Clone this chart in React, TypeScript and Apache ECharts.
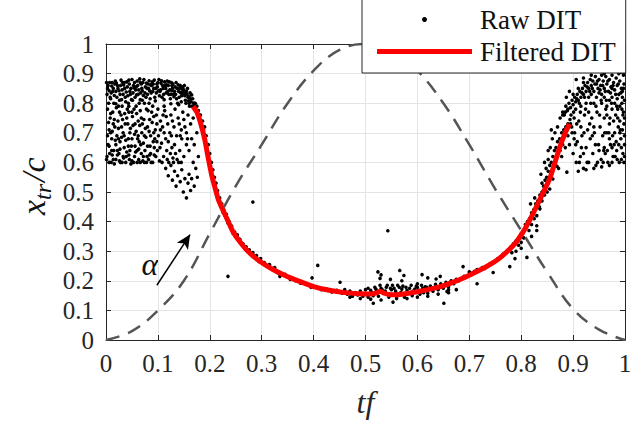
import React, { useEffect, useRef } from "react";
import * as echarts from "echarts";

const FONT = "'Liberation Serif', 'Times New Roman', serif";

// Raw DIT: left cloud, upper dense band
const rawLeftTop: number[][] = [
  [0.003,0.85],[0.008,0.82],[0.012,0.87],[0.015,0.80],[0.019,0.84],[0.022,0.86],[0.026,0.81],[0.029,0.878],[0.033,0.83],[0.036,0.85],
  [0.04,0.872],[0.043,0.80],[0.046,0.84],[0.05,0.88],[0.053,0.86],[0.056,0.82],[0.06,0.875],[0.063,0.845],[0.066,0.87],[0.07,0.81],
  [0.073,0.88],[0.076,0.855],[0.08,0.83],[0.083,0.876],[0.086,0.862],[0.09,0.84],[0.093,0.878],[0.096,0.85],[0.1,0.87],[0.103,0.825],
  [0.106,0.868],[0.11,0.85],[0.113,0.872],[0.116,0.835],[0.12,0.86],[0.123,0.845],[0.126,0.87],[0.13,0.83],[0.133,0.855],[0.136,0.815],
  [0.14,0.84],[0.143,0.86],[0.146,0.825],[0.15,0.845],[0.153,0.81],[0.156,0.83],[0.16,0.8],[0.163,0.815],[0.166,0.79],[0.169,0.80],
  [0.005,0.80],[0.01,0.835],[0.017,0.865],[0.024,0.79],[0.031,0.845],[0.038,0.805],[0.045,0.865],[0.052,0.835],[0.058,0.855],[0.064,0.80],
  [0.069,0.85],[0.075,0.835],[0.081,0.865],[0.088,0.86],[0.094,0.82],[0.099,0.855],[0.105,0.845],[0.111,0.83],[0.118,0.875],[0.124,0.815],
  [0.128,0.85],[0.135,0.87],[0.141,0.82],[0.148,0.855],[0.155,0.84],[0.158,0.82],[0.162,0.835],[0.145,0.805],[0.138,0.80],[0.132,0.84],
  [0.002,0.83],[0.007,0.87],[0.014,0.85],[0.021,0.82],[0.028,0.86],[0.035,0.87],[0.042,0.825],[0.048,0.85],[0.055,0.87],[0.062,0.83],
  [0.068,0.865],[0.074,0.80],[0.079,0.85],[0.085,0.815],[0.091,0.865],[0.097,0.835],[0.102,0.88],[0.108,0.82],[0.114,0.86],[0.121,0.83],
  [0.127,0.86],[0.134,0.83],[0.142,0.85],[0.149,0.83],[0.157,0.85],[0.152,0.825],[0.164,0.805],[0.167,0.815],[0.159,0.808],[0.147,0.838],
  [0.004,0.86],[0.009,0.815],[0.013,0.84],[0.018,0.875],[0.023,0.85],[0.027,0.83],[0.032,0.87],[0.037,0.82],[0.041,0.855],[0.047,0.83],
  [0.051,0.81],[0.057,0.845],[0.061,0.86],[0.067,0.835],[0.071,0.87],[0.077,0.82],[0.082,0.85],[0.087,0.835],[0.092,0.85],[0.098,0.865],
  [0.104,0.84],[0.109,0.86],[0.115,0.85],[0.119,0.84],[0.125,0.83],[0.129,0.865],[0.137,0.85],[0.144,0.835],[0.151,0.86],[0.154,0.8],
  [0.011,0.858],[0.016,0.826],[0.02,0.868],[0.025,0.842],[0.03,0.812],[0.034,0.862],[0.039,0.838],[0.044,0.878],[0.049,0.812],[0.054,0.852],
  [0.059,0.828],[0.065,0.882],[0.07,0.842],[0.072,0.826],[0.078,0.868],[0.084,0.842],[0.089,0.872],[0.095,0.808],[0.101,0.842],[0.107,0.876],
  [0.112,0.812],[0.117,0.862],[0.122,0.872],[0.127,0.842],[0.131,0.822],[0.139,0.862],[0.146,0.848],[0.153,0.836],[0.16,0.822],[0.165,0.828],
  [0.006,0.842],[0.001,0.87],[0.019,0.798],[0.031,0.79],[0.044,0.79],[0.058,0.79],[0.066,0.812],[0.083,0.8],[0.09,0.79],[0.112,0.79],
  [0.125,0.798],[0.14,0.795],[0.17,0.79],[0.172,0.8],[0.161,0.79],
];

// Raw DIT: left cloud, lower sparse part
const rawLeftLow: number[][] = [
  [0.002,0.62],[0.004,0.66],[0.006,0.71],[0.008,0.75],[0.01,0.6],[0.011,0.68],[0.013,0.77],[0.015,0.64],[0.017,0.72],[0.019,0.61],
  [0.021,0.69],[0.023,0.74],[0.025,0.63],[0.027,0.67],[0.029,0.76],[0.031,0.6],[0.033,0.7],[0.035,0.65],[0.037,0.73],[0.039,0.62],
  [0.041,0.78],[0.043,0.68],[0.045,0.61],[0.047,0.715],[0.049,0.655],[0.051,0.755],[0.053,0.6],[0.055,0.695],[0.057,0.635],[0.059,0.765],
  [0.061,0.68],[0.063,0.61],[0.065,0.725],[0.067,0.66],[0.069,0.7],[0.071,0.605],[0.073,0.745],[0.075,0.64],[0.077,0.685],[0.079,0.62],
  [0.081,0.775],[0.083,0.705],[0.085,0.655],[0.087,0.6],[0.089,0.735],[0.091,0.67],[0.093,0.625],[0.095,0.71],[0.097,0.76],[0.099,0.64],
  [0.101,0.69],[0.103,0.605],[0.105,0.74],[0.107,0.665],[0.109,0.72],[0.111,0.62],[0.113,0.775],[0.115,0.68],[0.117,0.64],[0.119,0.73],
  [0.121,0.6],[0.123,0.7],[0.125,0.76],[0.127,0.65],[0.129,0.615],[0.131,0.72],[0.133,0.78],[0.136,0.69],[0.139,0.75],[0.142,0.64],
  [0.145,0.71],[0.148,0.77],
  [0.003,0.69],[0.005,0.735],[0.007,0.63],[0.009,0.765],[0.012,0.705],[0.014,0.61],[0.016,0.745],[0.018,0.675],[0.02,0.785],[0.022,0.625],
  [0.024,0.715],[0.026,0.77],[0.028,0.6],[0.03,0.685],[0.032,0.745],[0.034,0.615],[0.036,0.765],[0.038,0.675],[0.04,0.635],[0.042,0.73],
  [0.044,0.77],[0.046,0.64],[0.048,0.595],[0.05,0.68],[0.052,0.725],[0.054,0.78],[0.056,0.655],[0.058,0.705],[0.06,0.6],[0.062,0.74],
  [0.064,0.67],[0.066,0.775],[0.068,0.63],[0.07,0.73],[0.072,0.665],[0.074,0.6],[0.076,0.715],[0.078,0.78],[0.08,0.655],[0.082,0.61],
  [0.084,0.745],[0.086,0.69],[0.088,0.77],[0.09,0.6],[0.092,0.755],[0.094,0.68],[0.096,0.62],[0.098,0.73],[0.1,0.78],[0.104,0.65],
  [0.108,0.6],[0.112,0.7],[0.116,0.755],[0.12,0.67],[0.124,0.63],[0.128,0.74],[0.132,0.66],[0.137,0.61],[0.141,0.73],[0.146,0.68],
  [0.15,0.745],[0.155,0.7],[0.158,0.76],
  [0.001,0.61],[0.006,0.6],[0.012,0.625],[0.016,0.595],[0.022,0.64],[0.026,0.605],[0.033,0.62],[0.038,0.6],[0.044,0.625],[0.05,0.605],
  [0.055,0.62],[0.06,0.64],[0.066,0.6],[0.072,0.62],[0.078,0.6],[0.084,0.625],[0.003,0.78],[0.009,0.7],[0.014,0.73],[0.019,0.66],
  [0.024,0.68],[0.03,0.72],[0.035,0.69],[0.04,0.75],[0.046,0.7],[0.05,0.77],[0.056,0.73],[0.062,0.69],[0.068,0.75],[0.074,0.69],
  [0.08,0.72],[0.086,0.63],[0.092,0.7],[0.098,0.67],[0.105,0.71],[0.11,0.76],[0.118,0.61],[0.126,0.69],[0.134,0.63],[0.143,0.69],
  [0.152,0.72],[0.157,0.68],[0.163,0.73],[0.168,0.75],[0.006,0.655],[0.011,0.64],[0.027,0.645],[0.043,0.655],[0.063,0.645],[0.093,0.65],
];

// Raw DIT: tail below the left cloud
const rawLeftTail: number[][] = [
  [0.115,0.58],[0.12,0.555],[0.125,0.59],[0.128,0.54],[0.132,0.57],[0.135,0.52],[0.138,0.555],[0.14,0.6],[0.143,0.535],[0.146,0.575],
  [0.149,0.5],[0.152,0.545],[0.155,0.48],[0.158,0.53],[0.16,0.56],[0.163,0.505],[0.165,0.545],[0.168,0.6],[0.17,0.52],[0.173,0.58],
  [0.176,0.55],[0.178,0.62],[0.15,0.62],[0.16,0.64],[0.165,0.68],[0.17,0.66],[0.175,0.7],[0.155,0.66],[0.145,0.6],[0.13,0.6],
];

// Raw DIT: along the descending branch
const rawDescent: number[][] = [
  [0.172,0.78],[0.176,0.77],[0.18,0.755],[0.184,0.72],[0.188,0.71],[0.192,0.66],[0.196,0.63],[0.2,0.6],[0.203,0.56],[0.207,0.545],
  [0.21,0.51],[0.214,0.49],[0.218,0.465],[0.222,0.45],[0.226,0.43],[0.23,0.42],[0.235,0.395],[0.24,0.38],[0.245,0.36],[0.25,0.35],
  [0.255,0.34],[0.26,0.325],[0.265,0.318],[0.27,0.305],[0.275,0.3],[0.28,0.29],[0.285,0.285],[0.29,0.275],[0.295,0.265],[0.3,0.262],
  [0.31,0.25],[0.32,0.24],[0.33,0.228],
  [0.17,0.8],[0.175,0.79],[0.178,0.775],[0.182,0.76],[0.186,0.74],[0.19,0.72],[0.193,0.69],[0.197,0.66],[0.2,0.63],[0.203,0.6],
  [0.206,0.575],[0.209,0.55],[0.212,0.53],[0.215,0.505],[0.219,0.48],[0.223,0.46],[0.227,0.44],[0.232,0.425],[0.237,0.4],[0.242,0.385],
  [0.248,0.365],[0.253,0.355],[0.258,0.34],[0.264,0.325],[0.27,0.315],[0.276,0.305],[0.283,0.295],[0.29,0.285],[0.298,0.275],[0.305,0.262],
  [0.315,0.255],[0.325,0.245],
];

// Raw DIT: bottom of the loop
const rawBottom: number[][] = [
  [0.335,0.215],[0.345,0.222],[0.355,0.205],[0.365,0.2],[0.375,0.192],[0.385,0.19],[0.395,0.178],[0.405,0.18],[0.415,0.17],[0.425,0.172],
  [0.435,0.162],[0.445,0.168],[0.455,0.158],[0.46,0.17],[0.465,0.155],[0.47,0.165],[0.475,0.148],[0.48,0.16],[0.485,0.152],[0.49,0.165],
  [0.495,0.148],[0.5,0.158],[0.505,0.145],[0.51,0.168],[0.515,0.15],[0.52,0.172],[0.525,0.148],[0.53,0.175],[0.535,0.16],[0.54,0.178],
  [0.545,0.145],[0.55,0.17],[0.555,0.175],[0.56,0.148],[0.565,0.178],[0.57,0.172],[0.575,0.145],[0.58,0.168],[0.585,0.175],[0.59,0.15],
  [0.595,0.172],[0.6,0.178],[0.605,0.155],[0.61,0.175],[0.615,0.18],[0.62,0.158],[0.625,0.182],[0.63,0.165],[0.635,0.188],[0.64,0.17],
  [0.645,0.19],[0.65,0.175],[0.655,0.195],[0.66,0.18],[0.665,0.2],[0.67,0.19],[0.675,0.205],[0.68,0.2],[0.69,0.215],[0.7,0.22],
  [0.5,0.17],[0.505,0.175],[0.512,0.16],[0.518,0.178],[0.522,0.165],[0.528,0.185],[0.532,0.17],[0.538,0.165],[0.542,0.185],[0.548,0.175],
  [0.552,0.185],[0.558,0.165],[0.562,0.185],[0.568,0.16],[0.572,0.182],[0.578,0.178],[0.582,0.16],[0.588,0.185],[0.592,0.165],[0.598,0.182],
  [0.603,0.168],[0.608,0.185],[0.612,0.16],[0.618,0.178],[0.47,0.145],[0.49,0.14],[0.51,0.138],[0.53,0.135],[0.56,0.14],[0.58,0.14],
  [0.6,0.145],[0.62,0.148],[0.64,0.155],[0.66,0.16],[0.675,0.17],
];

// Raw DIT: isolated points
const rawOutliers: number[][] = [
  [0.283,0.466],[0.235,0.215],[0.397,0.21],[0.408,0.252],[0.543,0.369],[0.524,0.23],[0.566,0.235],[0.574,0.218],[0.609,0.221],[0.644,0.215],
  [0.651,0.124],[0.515,0.124],[0.553,0.128],[0.474,0.148],[0.451,0.195],[0.528,0.208],[0.548,0.205],[0.62,0.21],[0.636,0.206],[0.688,0.248],
  [0.715,0.19],[0.746,0.228],[0.778,0.248],[0.788,0.275],[0.811,0.279],[0.657,0.164],[0.6,0.19],[0.53,0.22],[0.57,0.2],[0.66,0.17],
];

// Raw DIT: along the rising branch
const rawRise: number[][] = [
  [0.7,0.23],[0.705,0.225],[0.71,0.232],[0.715,0.238],[0.72,0.235],[0.725,0.245],[0.73,0.242],[0.735,0.25],[0.74,0.258],[0.745,0.26],
  [0.75,0.265],[0.755,0.275],[0.76,0.28],[0.765,0.29],[0.77,0.295],[0.775,0.305],[0.78,0.315],[0.785,0.325],[0.79,0.335],[0.795,0.345],
  [0.8,0.36],[0.805,0.37],[0.808,0.39],[0.812,0.4],[0.816,0.41],[0.82,0.43],[0.824,0.44],[0.828,0.46],[0.832,0.47],[0.836,0.49],
  [0.84,0.5],[0.843,0.52],[0.846,0.54],[0.849,0.55],[0.852,0.57],[0.855,0.59],[0.858,0.6],[0.861,0.62],[0.864,0.64],[0.867,0.65],
  [0.87,0.67],[0.874,0.68],[0.878,0.7],[0.882,0.71],[0.886,0.72],[0.89,0.73],[0.894,0.745],
  [0.81,0.38],[0.815,0.37],[0.82,0.39],[0.825,0.41],[0.83,0.42],[0.835,0.45],[0.83,0.386],[0.836,0.443],[0.84,0.47],[0.845,0.49],
  [0.85,0.5],[0.855,0.51],[0.861,0.544],[0.869,0.587],[0.888,0.567],[0.86,0.57],[0.865,0.6],[0.87,0.62],[0.875,0.64],[0.88,0.66],
  [0.872,0.58],[0.878,0.62],[0.885,0.65],[0.84,0.53],[0.848,0.58],[0.852,0.61],[0.856,0.65],[0.86,0.68],[0.865,0.7],[0.87,0.72],
  [0.875,0.75],[0.88,0.76],[0.885,0.77],[0.89,0.78],[0.8,0.33],[0.805,0.345],[0.795,0.32],[0.82,0.35],[0.83,0.37],[0.79,0.3],
  [0.782,0.295],[0.8,0.31],[0.818,0.46],[0.826,0.48],[0.838,0.56],[0.845,0.6],[0.852,0.64],[0.858,0.71],
];

// Raw DIT: right cloud
const rawRightCloud: number[][] = [
  [0.88,0.77],[0.883,0.76],[0.886,0.79],[0.889,0.775],[0.892,0.8],[0.895,0.785],[0.898,0.81],[0.9,0.795],[0.903,0.82],[0.905,0.805],
  [0.908,0.83],[0.91,0.81],[0.913,0.84],[0.915,0.82],[0.918,0.85],[0.92,0.83],[0.923,0.86],[0.925,0.84],[0.928,0.87],[0.93,0.85],
  [0.933,0.88],[0.935,0.86],[0.938,0.875],[0.94,0.84],[0.943,0.89],[0.945,0.865],[0.948,0.85],[0.95,0.88],[0.953,0.86],[0.955,0.83],
  [0.958,0.875],[0.96,0.85],[0.963,0.89],[0.965,0.865],[0.968,0.84],[0.97,0.88],[0.973,0.855],[0.975,0.82],[0.978,0.87],[0.98,0.845],
  [0.983,0.885],[0.985,0.86],[0.988,0.83],[0.99,0.875],[0.993,0.85],[0.995,0.82],[0.998,0.865],[0.9,0.83],[0.905,0.78],[0.91,0.85],
  [0.915,0.79],[0.92,0.87],[0.925,0.8],[0.93,0.82],[0.935,0.83],[0.94,0.8],[0.945,0.82],[0.95,0.835],[0.955,0.8],[0.96,0.82],
  [0.965,0.79],[0.97,0.81],[0.975,0.85],[0.98,0.8],[0.985,0.815],[0.99,0.79],[0.995,0.84],[0.997,0.895],[0.988,0.9],[0.975,0.895],
  [0.96,0.9],[0.955,0.895],[0.935,0.895],[0.92,0.885],[0.906,0.88],[0.893,0.84],[0.887,0.82],[0.896,0.76],[0.902,0.75],
  [0.89,0.69],[0.893,0.66],[0.897,0.72],[0.9,0.63],[0.903,0.7],[0.906,0.6],[0.908,0.67],[0.911,0.74],[0.914,0.62],[0.917,0.69],
  [0.92,0.58],[0.922,0.76],[0.925,0.65],[0.928,0.71],[0.93,0.6],[0.933,0.68],[0.936,0.75],[0.938,0.63],[0.941,0.7],[0.944,0.59],
  [0.946,0.77],[0.949,0.66],[0.952,0.72],[0.954,0.61],[0.957,0.69],[0.96,0.75],[0.962,0.63],[0.965,0.7],[0.967,0.6],[0.97,0.73],
  [0.972,0.66],[0.975,0.78],[0.977,0.62],[0.98,0.7],[0.982,0.76],[0.984,0.64],[0.987,0.72],[0.989,0.6],[0.992,0.68],[0.994,0.78],
  [0.996,0.63],[0.998,0.73],[0.91,0.57],[0.925,0.575],[0.94,0.58],[0.955,0.585],[0.97,0.59],[0.985,0.61],[0.999,0.62],[0.96,0.65],
  [0.965,0.76],[0.97,0.68],[0.975,0.65],[0.978,0.74],[0.983,0.67],[0.986,0.78],[0.99,0.74],[0.993,0.65],[0.995,0.71],[0.997,0.77],
  [0.999,0.69],[0.95,0.64],[0.94,0.72],[0.93,0.77],[0.915,0.72],[0.905,0.66],[0.898,0.7],[0.92,0.63],
  [0.901,0.77],[0.907,0.815],[0.912,0.8],[0.917,0.835],[0.922,0.82],[0.927,0.855],[0.932,0.84],[0.937,0.85],[0.942,0.865],[0.947,0.875],
  [0.952,0.845],[0.957,0.86],[0.962,0.84],[0.967,0.875],[0.972,0.835],[0.977,0.86],[0.982,0.83],[0.987,0.865],[0.992,0.835],[0.997,0.85],
  [0.994,0.8],[0.984,0.79],[0.974,0.8],[0.964,0.81],[0.954,0.81],[0.944,0.79],[0.934,0.8],[0.924,0.78],[0.914,0.77],[0.999,0.81],
  [0.996,0.76],[0.991,0.71],[0.988,0.66],[0.981,0.62],[0.976,0.69],[0.971,0.75],[0.966,0.64],[0.961,0.7],[0.958,0.6],[0.951,0.76],
  [0.947,0.6],[0.943,0.66],[0.937,0.69],[0.932,0.73],[0.927,0.6],[0.921,0.7],[0.916,0.65],[0.912,0.6],[0.907,0.73],[0.902,0.68],
  [0.895,0.73],[0.999,0.75],[0.999,0.66],[0.998,0.6],[0.993,0.61],[0.99,0.7],[0.986,0.75],[0.979,0.66],[0.975,0.6],[0.969,0.7],
  [0.963,0.78],[0.959,0.64],
];

// Filtered DIT curve
const filteredX = [0.168,0.175,0.182,0.19,0.197,0.204,0.21,0.216,0.225,0.233,0.245,0.258,0.275,0.297,0.32,0.345,0.37,0.4,0.43,0.46,0.49,0.51,0.52,0.528,0.536,0.545,0.56,0.58,0.6,0.62,0.644,0.665,0.685,0.707,0.73,0.755,0.773,0.79,0.804,0.818,0.83,0.843,0.855,0.865,0.875,0.885,0.893];
const filteredY = [0.789,0.77,0.735,0.68,0.615,0.554,0.515,0.477,0.44,0.41,0.365,0.332,0.297,0.265,0.24,0.218,0.2,0.18,0.168,0.16,0.156,0.155,0.158,0.165,0.158,0.154,0.153,0.157,0.163,0.17,0.18,0.193,0.207,0.225,0.245,0.272,0.299,0.33,0.366,0.41,0.453,0.5,0.545,0.6,0.655,0.7,0.73];

// Pitch angle alpha (dashed)
const alphaX = [0, 0.05, 0.1, 0.15, 0.2, 0.25, 0.3, 0.35, 0.4, 0.45, 0.5, 0.55, 0.6, 0.65, 0.7, 0.75, 0.8, 0.85, 0.9, 0.95, 1];
const alphaY = [0, 0.03, 0.1, 0.2, 0.36, 0.52, 0.66, 0.8, 0.91, 0.98, 1, 0.98, 0.91, 0.8, 0.66, 0.51, 0.37, 0.23, 0.105, 0.035, 0];

// Annotation arrow (data coords)
const arrowStart = [0.098, 0.185];
const arrowEnd = [0.162, 0.356];

export default function App() {
  const ref = useRef<HTMLDivElement>(null);
  useEffect(() => {
    if (!ref.current) return;
    const chart = echarts.init(ref.current, undefined, { renderer: "svg" });
    const raw = [
      ...rawLeftTop, ...rawLeftLow, ...rawLeftTail, ...rawDescent,
      ...rawBottom, ...rawOutliers, ...rawRise, ...rawRightCloud,
    ];
    const filtered = filteredX.map((x, i) => [x, filteredY[i]]);
    const alpha = alphaX.map((x, i) => [x, alphaY[i]]);
    const axisColor = "#262626";
    const baseAxis = {
      type: "value" as const,
      min: 0,
      max: 1,
      interval: 0.1,
      axisLine: { show: true, onZero: false, lineStyle: { color: axisColor, width: 1 } },
      axisTick: { show: true, inside: true, length: 5, lineStyle: { color: axisColor } },
    };
    chart.setOption({
      animation: false,
      backgroundColor: "#ffffff",
      grid: { left: 106, right: 16, top: 44, bottom: 81, containLabel: false },
      xAxis: [
        {
          ...baseAxis,
          position: "bottom",
          axisLabel: { fontSize: 25, fontFamily: FONT, color: axisColor, margin: 11 },
          splitLine: { show: true, lineStyle: { color: "#e4e4e4", width: 1 } },
          name: "tf",
          nameLocation: "middle",
          nameGap: 46,
          nameTextStyle: { fontSize: 32, fontStyle: "italic", fontFamily: FONT, color: axisColor },
        },
        {
          ...baseAxis,
          position: "top",
          axisLabel: { show: false },
          splitLine: { show: false },
        },
      ],
      yAxis: [
        {
          ...baseAxis,
          position: "left",
          axisLabel: { fontSize: 25, fontFamily: FONT, color: axisColor, margin: 12 },
          splitLine: { show: true, lineStyle: { color: "#e4e4e4", width: 1 } },
        },
        {
          ...baseAxis,
          position: "right",
          axisLabel: { show: false },
          splitLine: { show: false },
        },
      ],
      legend: {
        show: true,
        orient: "vertical",
        left: 362,
        top: -1,
        padding: [7, 10, 8, 15],
        itemGap: 5,
        itemWidth: 95,
        itemHeight: 5,
        backgroundColor: "#ffffff",
        borderColor: "#262626",
        borderWidth: 1,
        borderRadius: 0,
        z: 10,
        textStyle: { fontSize: 27, fontFamily: FONT, color: "#111", padding: [0, 0, 0, 3] },
        data: [
          { name: "Raw DIT", icon: "circle" },
          { name: "Filtered DIT", icon: "rect" },
        ],
      },
      graphic: [
        {
          type: "text",
          x: 150,
          y: 264,
          style: {
            text: "α",
            font: `italic 32px ${FONT}`,
            fill: "#111",
            textAlign: "center",
            textVerticalAlign: "middle",
          },
        },
        {
          type: "group",
          x: 50,
          y: 215,
          rotation: Math.PI / 2,
          children: [
            {
              type: "text",
              x: 0,
              y: 0,
              style: { text: "x", font: `italic 34px ${FONT}`, fill: "#111", textVerticalAlign: "bottom" },
            },
            {
              type: "text",
              x: 15,
              y: 5,
              style: { text: "tr", font: `italic 24px ${FONT}`, fill: "#111", textVerticalAlign: "bottom" },
            },
            {
              type: "text",
              x: 33,
              y: 0,
              style: { text: "/c", font: `italic 34px ${FONT}`, fill: "#111", textVerticalAlign: "bottom" },
            },
          ],
        },
      ],
      series: [
        {
          name: "Raw DIT",
          type: "scatter",
          data: raw,
          symbol: "circle",
          symbolSize: 3.6,
          itemStyle: { color: "#000000", opacity: 1 },
          z: 2,
        },
        {
          name: "alpha",
          type: "line",
          data: alpha,
          smooth: 0.4,
          showSymbol: false,
          symbol: "none",
          lineStyle: { color: "#555555", width: 2.5, type: [14, 9] },
          z: 3,
          markLine: {
            silent: true,
            symbol: ["none", "arrow"],
            symbolSize: [10, 14],
            label: { show: false },
            lineStyle: { color: "#000000", width: 1.5, type: "solid" },
            data: [[{ coord: arrowStart }, { coord: arrowEnd }]],
          },
        },
        {
          name: "Filtered DIT",
          type: "line",
          data: filtered,
          smooth: 0.2,
          showSymbol: false,
          symbol: "none",
          lineStyle: { color: "#ff0000", width: 5 },
          itemStyle: { color: "#ff0000" },
          z: 4,
        },
      ],
    });
    return () => chart.dispose();
  }, []);
  return (
    <div
      ref={ref}
      style={{ position: "absolute", left: 0, top: 0, width: 641, height: 423 }}
    />
  );
}
